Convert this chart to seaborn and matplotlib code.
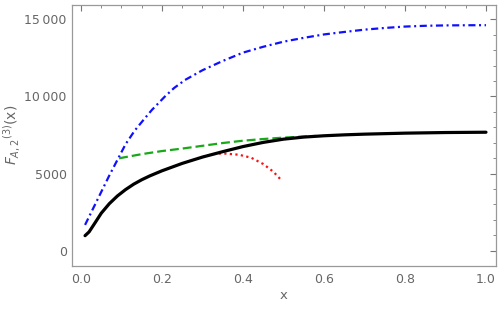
import matplotlib
matplotlib.use("Agg")
import matplotlib.pyplot as plt
import seaborn as sns
from matplotlib.ticker import MultipleLocator, FixedLocator, FixedFormatter

# values
black_x = [0.01, 0.02, 0.035, 0.05, 0.07, 0.09, 0.11, 0.13, 0.15, 0.17, 0.2, 0.25,
           0.3, 0.35, 0.4, 0.45, 0.5, 0.55, 0.6, 0.65, 0.7, 0.8, 0.9, 1.0]
black_y = [973, 1220, 1820, 2430, 3050, 3550, 3960, 4310, 4600, 4850, 5180, 5660,
           6070, 6420, 6750, 7020, 7230, 7365, 7450, 7510, 7555, 7620, 7660, 7680]

blue_x = [0.01, 0.03, 0.05, 0.07, 0.092, 0.11, 0.133, 0.155, 0.175, 0.207, 0.23, 0.257,
          0.3, 0.35, 0.4, 0.45, 0.5, 0.55, 0.6, 0.65, 0.7, 0.75, 0.8, 0.85, 0.9, 0.95, 1.0]
blue_y = [1670, 2740, 3810, 4880, 5990, 6900, 7800, 8500, 9124, 9990, 10550, 11070,
          11700, 12300, 12840, 13220, 13550, 13800, 14020, 14180, 14330, 14440, 14530,
          14580, 14605, 14615, 14620]

green_x = [0.094, 0.15, 0.2, 0.25, 0.3, 0.35, 0.4, 0.45, 0.5, 0.55, 0.58]
green_y = [5990, 6260, 6460, 6620, 6800, 6980, 7130, 7240, 7330, 7400, 7440]

red_x = [0.3, 0.325, 0.35, 0.39, 0.42, 0.45, 0.475, 0.493]
red_y = [6070, 6260, 6310, 6220, 6030, 5620, 5120, 4620]

x_ticks = [0.0, 0.2, 0.4, 0.6, 0.8, 1.0]
x_labels = ["0.0", "0.2", "0.4", "0.6", "0.8", "1.0"]
y_ticks = [0, 5000, 10000, 15000]
y_labels = ["0", "5000", "10\u2009000", "15\u2009000"]

sns.set_theme(style="white")
plt.rcParams['font.family'] = ['DejaVu Sans']
plt.rcParams['mathtext.fontset'] = 'dejavusans'

fig = plt.figure(figsize=(5.01, 3.14), dpi=100)
ax = fig.add_axes([0.1443, 0.1529, 0.8451, 0.8321])

sns.lineplot(x=blue_x, y=blue_y, sort=False, estimator=None, color="#1010ff",
             linewidth=1.6, linestyle=(0, (3.2, 1.6, 0.9, 1.6)), ax=ax)
sns.lineplot(x=green_x, y=green_y, sort=False, estimator=None, color="#18a818",
             linewidth=1.6, linestyle=(0, (4.0, 1.8)), ax=ax)
sns.lineplot(x=red_x, y=red_y, sort=False, estimator=None, color="#ff1010",
             linewidth=1.6, linestyle=(0, (1.0, 1.5)), ax=ax)
sns.lineplot(x=black_x, y=black_y, sort=False, estimator=None, color="black",
             linewidth=2.3, ax=ax)

ax.set_xlim(-0.0215, 1.024)
ax.set_ylim(-992, 15947)

gray = "#777777"
ax.xaxis.set_major_locator(FixedLocator(x_ticks))
ax.xaxis.set_major_formatter(FixedFormatter(x_labels))
ax.xaxis.set_minor_locator(MultipleLocator(0.05))
ax.yaxis.set_major_locator(FixedLocator(y_ticks))
ax.yaxis.set_major_formatter(FixedFormatter(y_labels))
ax.yaxis.set_minor_locator(MultipleLocator(1000))

ax.tick_params(which="both", direction="in", top=True, right=True, color=gray,
               labelcolor="#666666", labelsize=9)
ax.tick_params(which="major", length=4, width=0.8)
ax.tick_params(which="minor", length=2.2, width=0.6)
ax.tick_params(axis="x", pad=5)
ax.tick_params(axis="y", pad=4)

for sp in ax.spines.values():
    sp.set_color("#999999")
    sp.set_linewidth(0.9)

ax.set_xlabel("x", color="#666666", fontsize=9.5, labelpad=2)
ax.set_ylabel(r"$F_{A,2}{}^{(3)}\mathrm{(x)}$", color="#666666", fontsize=10)
ax.yaxis.set_label_coords(-0.118, 0.5)

fig.savefig("out.png", dpi=100)
